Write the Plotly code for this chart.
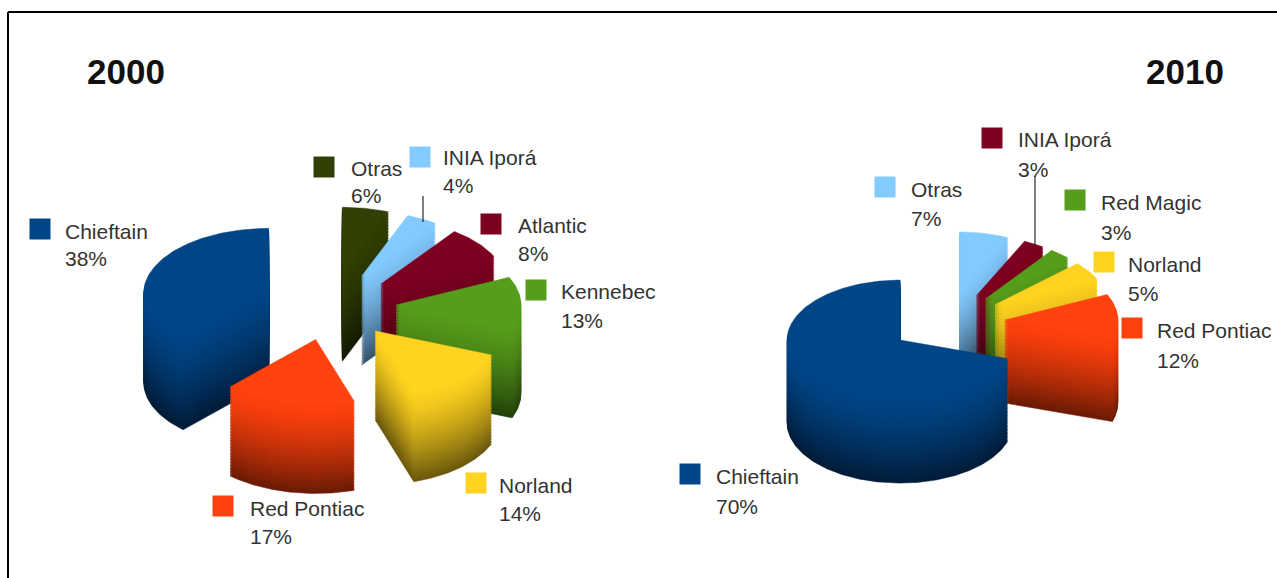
import math
import plotly.graph_objects as go

LABELS_2000 = ["Otras", "INIA Iporá", "Atlantic", "Kennebec", "Norland", "Red Pontiac", "Chieftain"]
VALUES_2000 = [6, 4, 8, 13, 14, 17, 38]
COLORS_2000 = ["#314004", "#83caff", "#7e0021", "#579d1c", "#ffd320", "#ff420e", "#004586"]
ORDER_2000 = [0, 1, 2, 3, 6, 4, 5]

LABELS_2010 = ["Otras", "INIA Iporá", "Red Magic", "Norland", "Red Pontiac", "Chieftain"]
VALUES_2010 = [7, 3, 3, 5, 12, 70]
COLORS_2010 = ["#83caff", "#7e0021", "#579d1c", "#ffd320", "#ff420e", "#004586"]
ORDER_2010 = [0, 1, 2, 3, 4, 5]

# pie geometry: centre x, centre y, radius x, radius y, depth, explode
GEOM_2000 = (330, 306, 125, 65, 89, 66)
GEOM_2010 = (947, 322, 113, 60, 83, 58)

# legend layout: square centre x, y; text x, first line y, second line y
LEG_2000 = [(324, 167, 351, 168, 195), (420, 157, 443, 157, 185), (491, 224, 518, 225, 253),
            (536, 290, 561, 291, 320), (476, 483, 499, 485, 513), (223, 506, 250, 508, 536),
            (40, 229, 65, 231, 258)]
LEG_2010 = [(885, 187, 911, 189, 218), (992, 138, 1018, 139, 169), (1075, 200, 1101, 202, 232),
            (1104, 262, 1128, 264, 293), (1132, 328, 1157, 330, 360), (690, 474, 716, 476, 506)]

LAYERS = 60
FONT = "Liberation Sans, Arial, sans-serif"


def shade(hex_color, t):
    r, g, b = int(hex_color[1:3], 16), int(hex_color[3:5], 16), int(hex_color[5:7], 16)
    f = 1 - 0.58 * t ** 1.4
    return f"rgb({int(r * f)},{int(g * f)},{int(b * f)})"


def add_pie(fig, values, colors, order, geom):
    cx, cy, rx, ry, depth, explode = geom
    total = sum(values)
    starts, a = [], 0.0
    for v in values:
        starts.append(a)
        a += v / total * 2 * math.pi
    k = ry / rx
    for i in order:
        a0 = starts[i]
        a1 = a0 + values[i] / total * 2 * math.pi
        mid = (a0 + a1) / 2
        ax = cx + explode * math.sin(mid)
        ay = cy - explode * k * math.cos(mid)
        n = max(4, int((a1 - a0) * 60))
        xs, ys = [ax], [ay]
        for j in range(n + 1):
            t = a0 + (a1 - a0) * j / n
            xs.append(ax + rx * math.sin(t))
            ys.append(ay - ry * math.cos(t))
        xs.append(ax)
        ys.append(ay)
        for layer in range(LAYERS, -1, -1):
            t = layer / LAYERS
            z = depth * t
            col = shade(colors[i], t)
            fig.add_trace(go.Scatter(
                x=xs, y=[y + z for y in ys], mode="lines", fill="toself",
                fillcolor=col, line=dict(color=col, width=0.5),
                hoverinfo="skip", showlegend=False))


def add_legend(fig, labels, values, colors, leg):
    for lab, val, col, (sx, sy, tx, y1, y2) in zip(labels, values, colors, leg):
        fig.add_trace(go.Scatter(
            x=[sx], y=[sy], mode="markers", hoverinfo="skip", showlegend=False,
            marker=dict(symbol="square", size=21, color=col, line=dict(width=0))))
        for text, y in ((lab, y1), (f"{val}%", y2)):
            fig.add_annotation(x=tx, y=y, text=text, showarrow=False, xanchor="left",
                               yanchor="middle", xshift=-2,
                               font=dict(family=FONT, size=21, color="#333333"))


fig = go.Figure()
add_pie(fig, VALUES_2000, COLORS_2000, ORDER_2000, GEOM_2000)
add_pie(fig, VALUES_2010, COLORS_2010, ORDER_2010, GEOM_2010)
add_legend(fig, LABELS_2000, VALUES_2000, COLORS_2000, LEG_2000)
add_legend(fig, LABELS_2010, VALUES_2010, COLORS_2010, LEG_2010)

for text, x in (("2000", 126), ("2010", 1185)):
    fig.add_annotation(x=x, y=71, text=f"<b>{text}</b>", showarrow=False,
                       font=dict(family=FONT, size=35, color="#111111"))

shapes = [
    dict(type="line", x0=8, x1=8, y0=12, y1=578, line=dict(color="black", width=2)),
    dict(type="line", x0=8, x1=1277, y0=12, y1=12, line=dict(color="black", width=2)),
    dict(type="line", x0=423, x1=423, y0=196, y1=222, line=dict(color="black", width=1)),
    dict(type="line", x0=1035, x1=1035, y0=176, y1=245, line=dict(color="black", width=1)),
]

fig.update_layout(
    width=1277, height=578, margin=dict(l=0, r=0, t=0, b=0),
    paper_bgcolor="white", plot_bgcolor="white", shapes=shapes, showlegend=False,
    xaxis=dict(range=[0, 1277], visible=False, fixedrange=True),
    yaxis=dict(range=[578, 0], visible=False, fixedrange=True),
)
fig.write_html("out.html", config=dict(displayModeBar=False),
               post_script="document.body.style.margin='0';document.body.style.overflow='hidden';")
